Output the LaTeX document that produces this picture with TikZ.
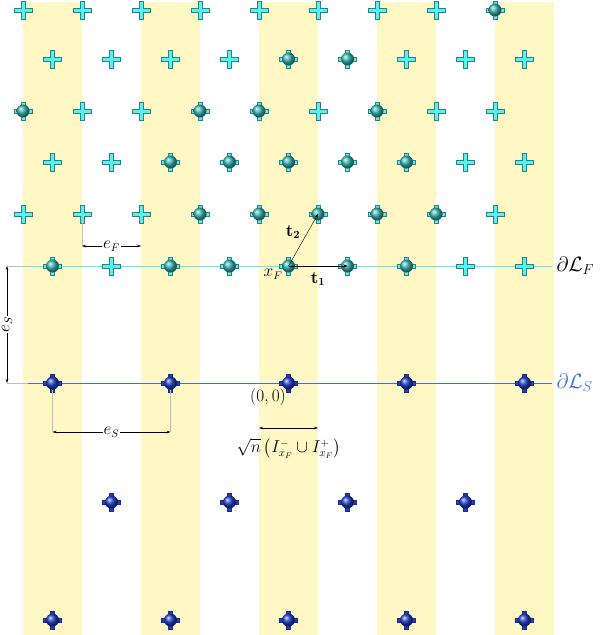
\documentclass[tikz,border=0pt]{standalone}
\usepackage{amsmath,amssymb}
\usetikzlibrary{arrows.meta,positioning,calc,shadings}
\definecolor{stripe}{HTML}{FFF8C4}
\definecolor{fcyan}{HTML}{55F2F2}
\definecolor{fedge}{HTML}{2E7F86}
\definecolor{fballc}{HTML}{37B4B4}
\definecolor{sblue}{HTML}{1E3FC8}
\definecolor{sline}{HTML}{3A6CF5}
\newcommand{\plusshape}[1]{%
  \filldraw[#1] (-2,-9) -- (2,-9) -- (2,-2) -- (9,-2) -- (9,2) -- (2,2) -- (2,9)
    -- (-2,9) -- (-2,2) -- (-9,2) -- (-9,-2) -- (-2,-2) -- cycle;}
\begin{document}
\begin{tikzpicture}[x=1pt,y=-1pt,
    fcross/.pic={\plusshape{fill=fcyan, draw=fedge, line width=0.7pt}},
    fball/.pic={\plusshape{fill=fcyan, draw=fedge, line width=0.7pt}
      \shade[ball color=fballc] (0,0) circle (6.5);},
    sball/.pic={\plusshape{fill=sblue, draw=sblue!70!black, line width=0.7pt}
      \shade[ball color=sblue] (0,0) circle (6.5);},
    dim/.style={{Stealth[length=4pt,width=2.5pt]}-{Stealth[length=4pt,width=2.5pt]}, line width=0.4pt},
    ext/.style={gray!50, line width=0.4pt},
    lbl/.style={inner sep=1pt, font=\fontsize{16}{18}\selectfont},
    bnd/.style={font=\fontsize{22}{24}\selectfont}
  ]
  \useasboundingbox (0,0) rectangle (601,635);

  % stripes
  \foreach \k in {0,4,8,12,16}
    \fill[stripe] ({23+29.5*\k},2) rectangle ({23+29.5*(\k+2)},635);

  % boundary lines
  \coordinate (fl) at (28,266);
  \coordinate (fr) at (552,266);
  \coordinate (sl) at (28,383);
  \coordinate (sr) at (552,383);
  \draw[draw=fcyan, line width=1pt] (fl) -- (fr);
  \draw[draw=sline, line width=1pt] (sl) -- (sr);
  \node[right=1pt of fr, bnd] (dLF) {$\partial\mathcal{L}_F$};
  \node[right=1pt of sr, bnd, text=sline] (dLS) {$\partial\mathcal{L}_S$};

  % fluid lattice
  \foreach \y/\cl/\bl in {10/{0,2,4,6,8,10,12,14}/{16},
                          59/{1,3,5,7,13,15,17}/{9,11},
                          111/{2,4,10,14,16}/{0,6,8,12},
                          162/{1,3,15,17}/{5,7,9,11,13},
                          214/{0,2,4,16}/{6,8,10,12,14},
                          266/{3,15,17}/{1,5,7,9,11,13}} {
    \foreach \k in \cl \pic at ({23+29.5*\k},\y) {fcross};
    \foreach \k in \bl \pic at ({23+29.5*\k},\y) {fball};
  }

  % solid lattice
  \foreach \y/\bl in {383/{1,5,9,13,17}, 502/{3,7,11,15}, 620/{1,5,9,13,17}}
    \foreach \k in \bl \pic at ({23+29.5*\k},\y) {sball};

  % vectors
  \coordinate (xF) at (288.5,266);
  \coordinate (t1e) at (347.5,266);
  \coordinate (t2e) at (318,214);
  \draw[-{Stealth[length=4pt,width=3pt]}, line width=0.4pt] (xF) -- (t1e);
  \draw[-{Stealth[length=4pt,width=3pt]}, line width=0.4pt] (xF) -- (t2e);
  \node[lbl] (t1) at (318,279) {$\mathbf{t_1}$};
  \node[lbl] (t2) at (293,232) {$\mathbf{t_2}$};
  \node[lbl] (xFl) at (273,274) {$x_F$};
  \node[lbl] (orig) at (268,397) {$(0,0)$};

  % e_F
  \coordinate (eF1) at (82,246);
  \coordinate (eF2) at (141,246);
  \draw[ext] (82,216) -- (eF1);
  \draw[dim] (eF1) -- (eF2) node[midway, fill=white, lbl] (eF) {$e_F$};

  % e_S vertical
  \coordinate (eSv1) at (7,266);
  \coordinate (eSv2) at (7,383);
  \draw[ext] (eSv1) -- (fl);
  \draw[ext] (eSv2) -- (sl);
  \draw[dim] (eSv1) -- (eSv2) node[midway, fill=white, rotate=90, lbl] (eSv) {$e_S$};

  % e_S horizontal
  \coordinate (eSh1) at (52.5,432);
  \coordinate (eSh2) at (170.5,432);
  \draw[ext] (52.5,390) -- (eSh1);
  \draw[ext] (170.5,390) -- (eSh2);
  \draw[dim] (eSh1) -- (eSh2) node[midway, fill=white, lbl] (eSh) {$e_S$};

  % interval
  \coordinate (I1) at (259,428);
  \coordinate (I2) at (318,428);
  \draw[dim] (I1) -- (I2);
  \node[lbl] (Ilbl) at (288.5,448) {$\sqrt{n}\,\bigl(I^-_{x_F}\cup I^+_{x_F}\bigr)$};
\end{tikzpicture}
\end{document}
